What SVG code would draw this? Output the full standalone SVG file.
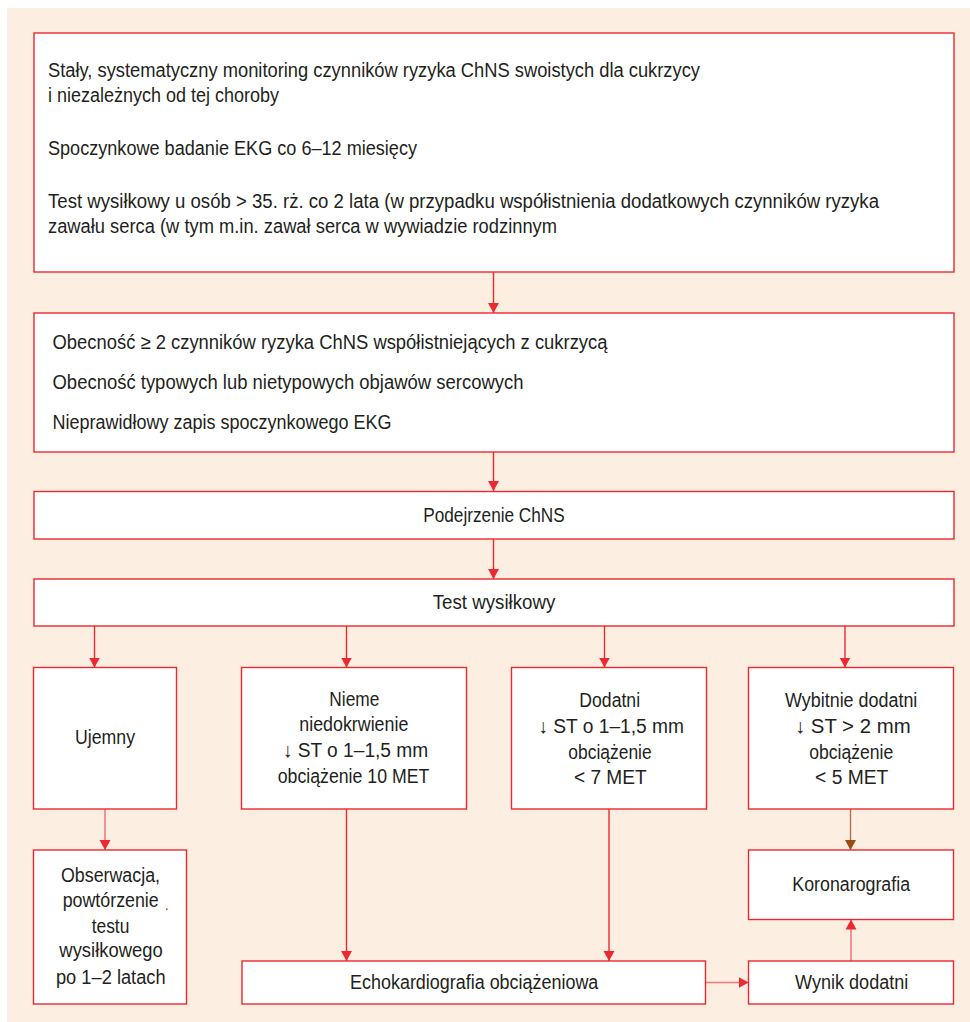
<svg xmlns="http://www.w3.org/2000/svg" width="970" height="1022" viewBox="0 0 970 1022">
<defs>
<style>
.box{fill:#ffffff;stroke:#ec2830;stroke-width:1.4}
.t{font-family:"Liberation Sans",Arial,sans-serif;font-size:20px;fill:#231f20}
.c{text-anchor:middle}
.ln{stroke:#ec2830;stroke-width:1.4;fill:none}
.lt{stroke:#f27a7f;stroke-width:1.6;fill:none}
.br{stroke:#b5714a;stroke-width:1.4;fill:none}
</style>
<marker id="ah" markerUnits="userSpaceOnUse" markerWidth="10" markerHeight="12" viewBox="0 0 10 12" refX="10" refY="6" orient="auto">
<path d="M0,0.5 L10,6 L0,11.5 Z" fill="#ec2830"/>
</marker>
<marker id="ahb" markerUnits="userSpaceOnUse" markerWidth="10" markerHeight="12" viewBox="0 0 10 12" refX="10" refY="6" orient="auto">
<path d="M0,0.5 L10,6 L0,11.5 Z" fill="#9c4a14"/>
</marker>
</defs>
<rect x="0" y="0" width="970" height="1022" fill="#ffffff"/>
<rect x="7" y="8" width="963" height="1014" fill="#fdeee2"/>

<g id="connectors">
<line class="ln" x1="493.5" y1="272" x2="493.5" y2="313" marker-end="url(#ah)"/>
<line class="ln" x1="493.5" y1="452" x2="493.5" y2="491" marker-end="url(#ah)"/>
<line class="ln" x1="493.5" y1="539" x2="493.5" y2="579" marker-end="url(#ah)"/>
<line class="ln" x1="94.5" y1="626" x2="94.5" y2="667.5" marker-end="url(#ah)"/>
<line class="ln" x1="346.5" y1="626" x2="346.5" y2="667.5" marker-end="url(#ah)"/>
<line class="ln" x1="604.5" y1="626" x2="604.5" y2="667.5" marker-end="url(#ah)"/>
<line class="ln" x1="845" y1="626" x2="845" y2="667.5" marker-end="url(#ah)"/>
<line class="lt" x1="105" y1="809" x2="105" y2="850" marker-end="url(#ah)"/>
<line class="ln" x1="346.5" y1="809" x2="346.5" y2="961" marker-end="url(#ah)"/>
<line class="ln" x1="609" y1="809" x2="609" y2="961" marker-end="url(#ah)"/>
<line class="br" x1="850.5" y1="809" x2="850.5" y2="850" marker-end="url(#ahb)"/>
<line class="lt" x1="851" y1="961" x2="851" y2="919.5" marker-end="url(#ah)"/>
<line class="lt" x1="706" y1="982.5" x2="748.5" y2="982.5" marker-end="url(#ah)"/>
</g>

<g id="n-monitoring">
<rect class="box" x="34" y="33" width="920" height="239"/>
<text class="t" x="48" y="77" textLength="652" lengthAdjust="spacingAndGlyphs">Stały, systematyczny monitoring czynników ryzyka ChNS swoistych dla cukrzycy</text>
<text class="t" x="48" y="102" textLength="231" lengthAdjust="spacingAndGlyphs">i niezależnych od tej choroby</text>
<text class="t" x="48" y="155" textLength="369" lengthAdjust="spacingAndGlyphs">Spoczynkowe badanie EKG co 6–12 miesięcy</text>
<text class="t" x="48" y="208" textLength="831" lengthAdjust="spacingAndGlyphs">Test wysiłkowy u osób &gt; 35. rż. co 2 lata (w przypadku współistnienia dodatkowych czynników ryzyka</text>
<text class="t" x="48" y="233" textLength="509" lengthAdjust="spacingAndGlyphs">zawału serca (w tym m.in. zawał serca w wywiadzie rodzinnym</text>
</g>

<g id="n-obecnosc">
<rect class="box" x="34" y="313" width="920" height="139"/>
<text class="t" x="52.5" y="349" textLength="555" lengthAdjust="spacingAndGlyphs">Obecność ≥ 2 czynników ryzyka ChNS współistniejących z cukrzycą</text>
<text class="t" x="52.5" y="388.5" textLength="471" lengthAdjust="spacingAndGlyphs">Obecność typowych lub nietypowych objawów sercowych</text>
<text class="t" x="52.5" y="428.5" textLength="339" lengthAdjust="spacingAndGlyphs">Nieprawidłowy zapis spoczynkowego EKG</text>
</g>

<g id="n-podejrzenie">
<rect class="box" x="34" y="491.5" width="920" height="47.5"/>
<text class="t c" x="494" y="521.5" textLength="141.5" lengthAdjust="spacingAndGlyphs">Podejrzenie ChNS</text>
</g>

<g id="n-test">
<rect class="box" x="34" y="579" width="920" height="47"/>
<text class="t c" x="494" y="608.5" textLength="122.5" lengthAdjust="spacingAndGlyphs">Test wysiłkowy</text>
</g>

<g id="n-ujemny">
<rect class="box" x="33.5" y="667.5" width="143" height="141.5"/>
<text class="t c" x="105" y="744" textLength="60" lengthAdjust="spacingAndGlyphs">Ujemny</text>
</g>

<g id="n-nieme">
<rect class="box" x="241.5" y="667.5" width="225" height="141.5"/>
<text class="t c" x="354.3" y="706" textLength="50" lengthAdjust="spacingAndGlyphs">Nieme</text>
<text class="t c" x="353.8" y="731" textLength="109" lengthAdjust="spacingAndGlyphs">niedokrwienie</text>
<text class="t c" x="355.5" y="757" textLength="145.5" lengthAdjust="spacingAndGlyphs">↓ ST o 1–1,5 mm</text>
<text class="t c" x="353.5" y="783" textLength="151.5" lengthAdjust="spacingAndGlyphs">obciążenie 10 MET</text>
</g>

<g id="n-dodatni">
<rect class="box" x="511.5" y="667.5" width="195" height="141.5"/>
<text class="t c" x="609.7" y="707" textLength="60.7" lengthAdjust="spacingAndGlyphs">Dodatni</text>
<text class="t c" x="611.2" y="732.5" textLength="145.7" lengthAdjust="spacingAndGlyphs">↓ ST o 1–1,5 mm</text>
<text class="t c" x="610" y="758.5" textLength="83.3" lengthAdjust="spacingAndGlyphs">obciążenie</text>
<text class="t c" x="610.3" y="784" textLength="72.7" lengthAdjust="spacingAndGlyphs">&lt; 7 MET</text>
</g>

<g id="n-wybitnie">
<rect class="box" x="748.5" y="667.5" width="205" height="141.5"/>
<text class="t c" x="851.2" y="707" textLength="132.3" lengthAdjust="spacingAndGlyphs">Wybitnie dodatni</text>
<text class="t c" x="852.8" y="732.5" textLength="115.7" lengthAdjust="spacingAndGlyphs">↓ ST &gt; 2 mm</text>
<text class="t c" x="851.3" y="758.5" textLength="84" lengthAdjust="spacingAndGlyphs">obciążenie</text>
<text class="t c" x="851.7" y="784" textLength="73.3" lengthAdjust="spacingAndGlyphs">&lt; 5 MET</text>
</g>

<g id="n-obserwacja">
<rect class="box" x="33.5" y="850" width="153" height="154"/>
<text class="t c" x="110.5" y="882" textLength="99" lengthAdjust="spacingAndGlyphs">Obserwacja,</text>
<text class="t c" x="110.7" y="907" textLength="96" lengthAdjust="spacingAndGlyphs">powtórzenie</text>
<text class="t c" x="110.5" y="932.5" textLength="37.7" lengthAdjust="spacingAndGlyphs">testu</text>
<text class="t c" x="111" y="957" textLength="103.3" lengthAdjust="spacingAndGlyphs">wysiłkowego</text>
<text class="t c" x="110.8" y="983.5" textLength="109.7" lengthAdjust="spacingAndGlyphs">po 1–2 latach</text>
<rect x="166" y="908.5" width="1.6" height="1.6" fill="#b0561e"/>
</g>

<g id="n-koronarografia">
<rect class="box" x="748.5" y="850" width="205" height="69.5"/>
<text class="t c" x="851.2" y="891" textLength="117.7" lengthAdjust="spacingAndGlyphs">Koronarografia</text>
</g>

<g id="n-echo">
<rect class="box" x="242" y="961" width="463.5" height="43"/>
<text class="t c" x="474.2" y="989" textLength="248.3" lengthAdjust="spacingAndGlyphs">Echokardiografia obciążeniowa</text>
</g>

<g id="n-wynik">
<rect class="box" x="748.5" y="961" width="205" height="43"/>
<text class="t c" x="851.7" y="989" textLength="113.3" lengthAdjust="spacingAndGlyphs">Wynik dodatni</text>
</g>
</svg>
